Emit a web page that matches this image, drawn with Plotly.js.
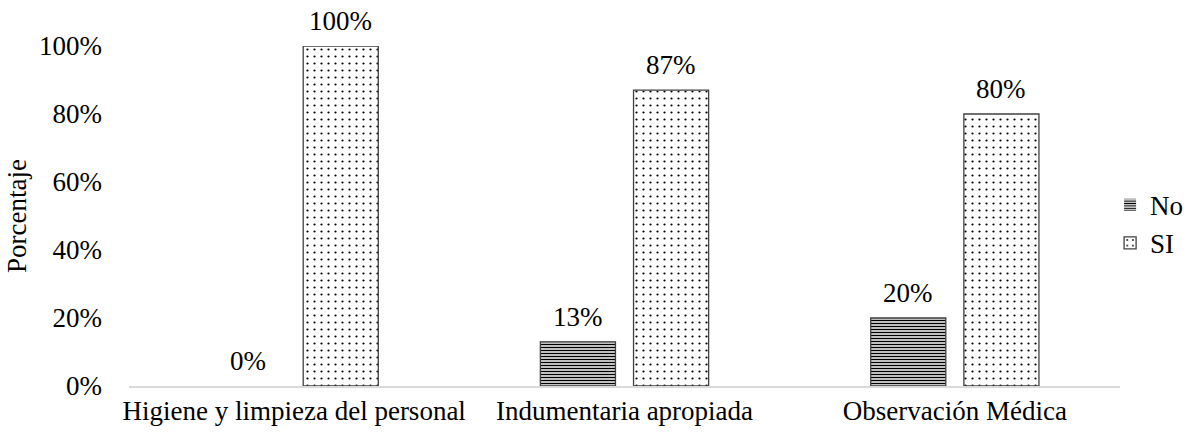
<!DOCTYPE html>
<html>
<head>
<meta charset="utf-8">
<script src="https://cdn.plot.ly/plotly-3.0.1.min.js"></script>
<style>html,body{margin:0;padding:0;background:#fff;}#chart{width:1192px;height:435px;}</style>
</head>
<body>
<div id="chart"></div>
<script>
const categories = ["Higiene y limpieza del personal", "Indumentaria apropiada", "Observación Médica"];
const seriesNames = ["No", "SI"];
const noValues = [0, 13, 20];
const siValues = [100, 87, 80];
const yTickVals = [0, 20, 40, 60, 80, 100];
const yTickText = ["0%", "20%", "40%", "60%", "80%", "100%"];

const font = "'Liberation Serif', 'Times New Roman', Times, serif";
const FS = 27;

function lineWidths(vals){ return vals.map(v => v === 0 ? 0 : 1.3); }

const traces = [
  {
    type: "bar", name: seriesNames[0], x: categories, y: noValues,
    marker: {color: "#ffffff", line: {color: "#404040", width: lineWidths(noValues)},
      pattern: {shape: "-", fgcolor: "#000000", bgcolor: "#ffffff", size: 3, solidity: 0.5}},
    hoverinfo: "none"
  },
  {
    type: "bar", name: seriesNames[1], x: categories, y: siValues,
    marker: {color: "#ffffff", line: {color: "#404040", width: lineWidths(siValues)},
      pattern: {shape: ".", fgcolor: "#000000", bgcolor: "#ffffff", size: 7, solidity: 0.08}},
    hoverinfo: "none"
  }
];

// data labels above each bar, built from the data arrays
const annotations = [];
[noValues, siValues].forEach((vals, si) => {
  vals.forEach((v, i) => {
    annotations.push({
      x: categories[i], y: v, xref: "x", yref: "y",
      text: v + "%", showarrow: false, yanchor: "bottom",
      xshift: si === 0 ? -46.5 : 46.5, yshift: 8,
      font: {family: font, size: FS, color: "#000"}
    });
  });
});

const layout = {
  width: 1192, height: 435,
  margin: {l: 129, r: 72, t: 46, b: 49, autoexpand: false},
  paper_bgcolor: "#fff", plot_bgcolor: "#fff",
  font: {family: font, size: FS, color: "#000"},
  barmode: "group", bargap: 0.436, bargroupgap: 0.194,
  showlegend: true,
  legend: {x: 0.99, xanchor: "left", y: 0.476, yanchor: "middle", font: {family: font, size: FS},
    itemwidth: 30, tracegroupgap: 0, bgcolor: "rgba(0,0,0,0)"},
  annotations: annotations,
  xaxis: {showline: true, linecolor: "#d9d9d9", linewidth: 1.5, ticks: "", showgrid: false,
    tickfont: {family: font, size: FS}, zeroline: false, automargin: false},
  yaxis: {range: [0, 100], tickvals: yTickVals, ticktext: yTickText, showgrid: false, zeroline: false,
    showline: false, ticks: "", ticklen: 0, tickfont: {family: font, size: FS}, ticklabelstandoff: 26,
    automargin: false,
    title: {text: "Porcentaje", font: {family: font, size: FS}, standoff: 4}},
};

Plotly.newPlot("chart", traces, layout, {staticPlot: true, displayModeBar: false});
</script>
</body>
</html>
